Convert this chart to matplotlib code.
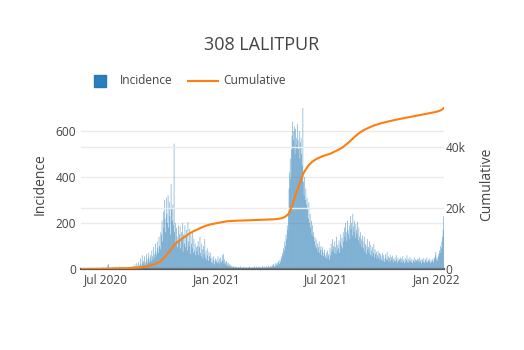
import numpy as np
import pandas as pd
import matplotlib
matplotlib.use("Agg")
import matplotlib.pyplot as plt
import matplotlib.dates as mdates
from matplotlib.patches import Rectangle
from matplotlib.lines import Line2D
from matplotlib.ticker import FuncFormatter

plt.rcParams['font.family'] = ['Open Sans', 'DejaVu Sans']

district = "308 LALITPUR"
start_date = "2020-05-20"

# daily new cases, one row per month
incidence_2020 = [
    0, 0, 1, 0, 0, 2, 0, 1, 0, 3, 0, 1,
    0, 2, 1, 0, 3, 1, 0, 2, 4, 1, 0, 3, 2, 1, 5, 0, 2, 3, 1, 4, 2, 0, 3, 1, 6, 2, 4, 1, 3, 5,
    3, 5, 2, 18, 22, 6, 4, 3, 7, 2, 5, 8, 3, 4, 6, 2, 9, 5, 3, 7, 4, 6, 10, 5, 3, 8, 6, 4, 9, 7, 5,
    2, 4, 1, 3, 6, 2, 5, 8, 4, 10, 6, 3, 12, 7, 15, 5, 9, 20, 11, 6, 25, 14, 8, 30, 18, 12, 45, 22, 10, 60, 28,
    35, 20, 55, 30, 15, 65, 40, 25, 50, 70, 30, 45, 60, 35, 80, 55, 40, 95, 65, 50, 110, 75, 60, 120, 90, 70, 140, 100, 85, 160,
    150, 210, 120, 250, 180, 300, 220, 160, 310, 240, 200, 320, 180, 290, 230, 150, 370, 260, 210, 280, 190, 545, 160, 200, 110, 180, 140, 95, 190, 120, 150,
    185, 90, 160, 130, 200, 75, 150, 110, 190, 95, 140, 170, 80, 205, 120, 100, 175, 65, 150, 110, 90, 160, 70, 130, 80, 110, 60, 95, 75, 100,
    120, 60, 95, 140, 70, 55, 110, 85, 45, 100, 65, 130, 50, 80, 40, 90, 60, 35, 75, 55, 45, 70, 30, 50, 25, 40, 55, 20, 35, 45, 30,
]
incidence_2021 = [
    40, 25, 55, 30, 45, 20, 50, 35, 28, 60, 38, 65, 22, 42, 30, 18, 35, 25, 15, 28, 12, 20, 10, 16, 8, 14, 6, 12, 9, 5, 11,
    8, 4, 10, 6, 3, 9, 5, 7, 12, 4, 6, 2, 8, 5, 10, 3, 7, 6, 4, 9, 5, 2, 8, 6, 11, 4, 7, 3,
    5, 9, 3, 7, 12, 4, 6, 10, 2, 8, 5, 11, 7, 3, 9, 6, 4, 14, 8, 5, 10, 3, 7, 12, 6, 9, 4, 15, 8, 5, 11,
    12, 8, 18, 10, 22, 15, 9, 25, 14, 20, 30, 18, 26, 35, 22, 40, 30, 55, 45, 70, 60, 90, 80, 120, 100, 150, 130, 190, 170, 240,
    350, 420, 480, 390, 520, 580, 640, 560, 600, 620, 500, 610, 570, 540, 630, 560, 520, 600, 480, 550, 570, 500, 450, 700, 380, 320, 400, 300, 350, 280, 310,
    260, 220, 290, 200, 240, 180, 210, 150, 190, 140, 160, 120, 140, 100, 130, 90, 110, 75, 95, 120, 70, 85, 100, 60, 80, 95, 55, 70, 85, 60,
    50, 70, 45, 80, 55, 65, 40, 90, 60, 110, 75, 130, 85, 100, 70, 120, 95, 65, 140, 80, 105, 90, 125, 70, 115, 150, 100, 135, 90, 160, 120,
    180, 140, 200, 160, 120, 210, 170, 150, 190, 130, 230, 175, 200, 145, 240, 185, 160, 210, 135, 195, 170, 150, 205, 125, 180, 140, 110, 160, 130, 95, 145,
    120, 90, 140, 75, 110, 100, 65, 130, 85, 95, 70, 120, 60, 105, 80, 55, 95, 70, 110, 50, 85, 65, 75, 45, 60, 80, 50, 70, 40, 65,
    55, 40, 70, 35, 60, 45, 30, 65, 50, 38, 75, 42, 55, 30, 48, 62, 35, 52, 40, 58, 28, 45, 36, 50, 32, 60, 40, 27, 48, 35, 44,
    38, 50, 30, 45, 28, 55, 35, 42, 25, 48, 33, 40, 60, 30, 45, 27, 38, 52, 35, 30, 44, 26, 40, 35, 50, 28, 42, 32, 38, 45,
    35, 42, 28, 50, 33, 40, 25, 45, 38, 30, 48, 27, 36, 42, 30, 50, 28, 35, 40, 32, 45, 26, 38, 30, 42, 35, 28, 50, 45, 60, 75,
]
incidence_2022 = [40, 50, 35, 55, 65, 80, 70, 100, 90, 120, 140, 170, 230]

incidence = np.array(incidence_2020 + incidence_2021 + incidence_2022)
dates = pd.date_range(start_date, periods=len(incidence), freq="D")
cumulative = incidence.cumsum()

text_col = "#444444"
grid_col = "#ebebeb"

fig = plt.figure(figsize=(5.24, 3.5), dpi=100)
ax = fig.add_axes([80.5 / 524, 1 - 269 / 350, (444 - 80.5) / 524, 169 / 350])
ax2 = ax.twinx()

bars = ax.bar(dates, incidence, width=1.0, color="#1f77b4", alpha=0.68, linewidth=0)
for b in bars:
    b.set_snap(False)
ax2.plot(dates, cumulative, color="#ff7f0e", lw=1.5)

ax.set_xlim(dates[0] - pd.Timedelta(hours=12), dates[-1] + pd.Timedelta(hours=12))
ax.set_ylim(0, incidence.max() * 1.05)
ax2.set_ylim(0, cumulative[-1] * 1.05)

ax.set_yticks([0, 200, 400, 600])
ax2.set_yticks([0, 20000, 40000])
ax2.yaxis.set_major_formatter(FuncFormatter(lambda v, p: "0" if v == 0 else "%dk" % (v / 1000)))

ax.xaxis.set_major_locator(mdates.MonthLocator(bymonth=[1, 7]))
ax.xaxis.set_major_formatter(mdates.DateFormatter("%b %Y"))

for a in (ax, ax2):
    for s in a.spines.values():
        s.set_visible(False)
    a.grid(axis="y", color=grid_col, lw=1)
    a.set_axisbelow(True)
    a.tick_params(length=0, labelsize=8.6, colors=text_col)
ax.tick_params(axis="y", pad=3)
ax2.tick_params(axis="y", pad=1)
ax.tick_params(axis="x", pad=3)
ax.grid(axis="x", visible=False)
ax2.grid(axis="x", visible=False)
ax.axhline(0, color="#555b62", lw=1.6, zorder=5, clip_on=False)

ax.set_ylabel("Incidence", fontsize=10, color=text_col, labelpad=6)
ax2.set_ylabel("Cumulative", fontsize=10, color=text_col, labelpad=10)

fig.text(262 / 524, 1 - 45 / 350, district, ha="center", va="center", fontsize=13, color=text_col)

# legend row above the plot
sq = Rectangle((94 / 524, 1 - 87 / 350), 12 / 524, 12 / 350, transform=fig.transFigure,
               color="#1f77b4", alpha=0.95)
fig.patches.append(sq)
fig.text(120 / 524, 1 - 81 / 350, "Incidence", ha="left", va="center", fontsize=8.6, color=text_col)
fig.lines.append(Line2D([188 / 524, 218 / 524], [1 - 80.5 / 350, 1 - 80.5 / 350],
                        transform=fig.transFigure, color="#ff7f0e", lw=1.5))
fig.text(223 / 524, 1 - 81 / 350, "Cumulative", ha="left", va="center", fontsize=8.6, color=text_col)

fig.savefig("out.png", dpi=100)
